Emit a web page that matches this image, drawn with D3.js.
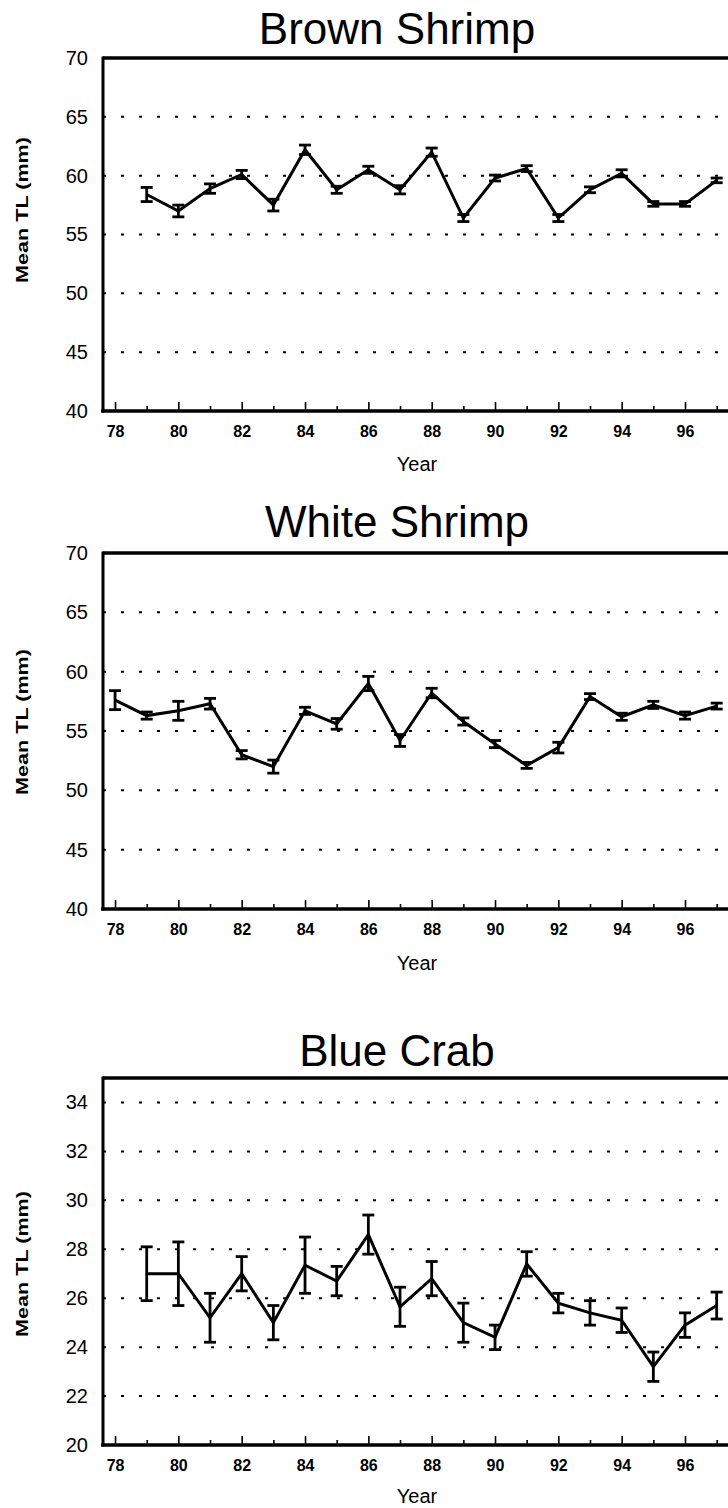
<!DOCTYPE html>
<html>
<head>
<meta charset="utf-8">
<script src="https://cdn.jsdelivr.net/npm/d3@7"></script>
<style>
  body { margin: 0; background: #fff; }
  svg { display: block; }
  text { font-family: "Liberation Sans", Arial, Helvetica, sans-serif; fill: #000; }
</style>
</head>
<body>
<svg id="chart" width="728" height="1508"></svg>
<script>
// ── data (mean TL, mm, with ± error half-width) ──
const brownYears = [79, 80, 81, 82, 83, 84, 85, 86, 87, 88, 89, 90, 91, 92, 93, 94, 95, 96, 97];
const brownMean  = [58.4, 57.0, 58.9, 60.1, 57.5, 62.2, 58.8, 60.5, 58.8, 62.0, 56.4, 59.8, 60.6, 56.4, 58.8, 60.2, 57.6, 57.6, 59.6];
const brownErr   = [0.6, 0.5, 0.4, 0.35, 0.5, 0.4, 0.3, 0.3, 0.35, 0.35, 0.3, 0.25, 0.25, 0.3, 0.25, 0.3, 0.2, 0.2, 0.2];

const whiteYears = [78, 79, 80, 81, 82, 83, 84, 85, 86, 87, 88, 89, 90, 91, 92, 93, 94, 95, 96, 97];
const whiteMean  = [57.6, 56.3, 56.7, 57.3, 53.0, 52.0, 56.7, 55.6, 59.0, 54.2, 58.2, 55.8, 53.9, 52.1, 53.6, 57.9, 56.2, 57.2, 56.3, 57.1];
const whiteErr   = [0.8, 0.3, 0.8, 0.45, 0.35, 0.55, 0.3, 0.45, 0.6, 0.5, 0.4, 0.3, 0.3, 0.25, 0.45, 0.25, 0.3, 0.3, 0.3, 0.25];

const crabYears = [79, 80, 81, 82, 83, 84, 85, 86, 87, 88, 89, 90, 91, 92, 93, 94, 95, 96, 97];
const crabMean  = [27.0, 27.0, 25.2, 27.0, 25.0, 27.35, 26.7, 28.6, 25.65, 26.8, 25.0, 24.4, 27.4, 25.8, 25.4, 25.1, 23.2, 24.9, 25.7];
const crabErr   = [1.1, 1.3, 1.0, 0.7, 0.7, 1.15, 0.6, 0.8, 0.8, 0.7, 0.8, 0.5, 0.5, 0.4, 0.5, 0.5, 0.6, 0.5, 0.55];

const shrimpTicks = [40, 45, 50, 55, 60, 65, 70];
const crabTicks   = [20, 22, 24, 26, 28, 30, 32, 34];
const yearLabels  = [78, 80, 82, 84, 86, 88, 90, 92, 94, 96];
const yearMinor   = [79, 81, 83, 85, 87, 89, 91, 93, 95, 97];

// layout of the three stacked panels (plot top/bottom, title/label baselines)
const panels = [
  { title: 'Brown Shrimp', years: brownYears, mean: brownMean, err: brownErr,
    domain: [40, 70], ticks: shrimpTicks, top: 58, bottom: 411, titleY: 44, yearY: 471, labelY: 210 },
  { title: 'White Shrimp', years: whiteYears, mean: whiteMean, err: whiteErr,
    domain: [40, 70], ticks: shrimpTicks, top: 553, bottom: 909, titleY: 537, yearY: 970, labelY: 722 },
  { title: 'Blue Crab', years: crabYears, mean: crabMean, err: crabErr,
    domain: [20, 35], ticks: crabTicks, top: 1078, bottom: 1445, titleY: 1066, yearY: 1503, labelY: 1264 },
];

const svg = d3.select('#chart');
const left = 103, right = 761;          // right frame edge falls off the page, as in the scan
const x = d3.scaleLinear().domain([77.62, 98.4]).range([left, right]);

panels.forEach((p) => {
  const y = d3.scaleLinear().domain(p.domain).range([p.bottom, p.top]);
  const g = svg.append('g');

  // title
  g.append('text')
    .attr('x', 397).attr('y', p.titleY)
    .attr('text-anchor', 'middle')
    .style('font-size', '44px')
    .text(p.title);

  // dotted grid at interior ticks
  g.append('g').selectAll('line')
    .data(p.ticks.filter((t) => t > p.domain[0] && t < p.domain[1]))
    .join('line')
    .attr('x1', left).attr('x2', right)
    .attr('y1', (d) => y(d)).attr('y2', (d) => y(d))
    .attr('stroke', '#000').attr('stroke-width', 2)
    .attr('stroke-dasharray', '3,15');

  // y tick labels
  const ya = g.append('g').attr('transform', `translate(${left},0)`)
    .call(d3.axisLeft(y).tickValues(p.ticks).tickSize(0).tickPadding(15));
  ya.select('.domain').remove();
  ya.selectAll('text').style('font-size', '20px').attr('fill', '#000');

  // x axis: inward ticks, bold labels on even years
  const xa = g.append('g').attr('transform', `translate(0,${p.bottom})`)
    .call(d3.axisBottom(x).tickValues(yearLabels).tickSizeInner(-9).tickSizeOuter(0).tickPadding(15));
  xa.select('.domain').remove();
  xa.selectAll('line').attr('stroke-width', 1.6);
  xa.selectAll('text').style('font-size', '16px').style('font-weight', 'bold').attr('fill', '#000');
  const xm = g.append('g').attr('transform', `translate(0,${p.bottom})`)
    .call(d3.axisBottom(x).tickValues(yearMinor).tickSizeInner(-5).tickSizeOuter(0).tickFormat(''));
  xm.select('.domain').remove();
  xm.selectAll('line').attr('stroke-width', 1.6);

  // frame: top, left, bottom
  g.append('line').attr('x1', left).attr('x2', right).attr('y1', p.top).attr('y2', p.top)
    .attr('stroke', '#000').attr('stroke-width', 3.5);
  g.append('line').attr('x1', left).attr('x2', left).attr('y1', p.top - 1.5).attr('y2', p.bottom + 1.5)
    .attr('stroke', '#000').attr('stroke-width', 3);
  g.append('line').attr('x1', left - 2).attr('x2', right).attr('y1', p.bottom).attr('y2', p.bottom)
    .attr('stroke', '#000').attr('stroke-width', 3.5);

  // axis titles
  g.append('text')
    .attr('transform', `translate(22,${p.labelY}) rotate(-90)`)
    .attr('text-anchor', 'middle').attr('dominant-baseline', 'central')
    .style('font-size', '17px').style('font-weight', 'bold')
    .attr('textLength', 146).attr('lengthAdjust', 'spacingAndGlyphs')
    .text('Mean TL (mm)');
  g.append('text')
    .attr('x', 417).attr('y', p.yearY)
    .attr('text-anchor', 'middle')
    .style('font-size', '20px')
    .text('Year');

  // series
  const pts = p.years.map((yr, i) => ({ yr, m: p.mean[i], e: p.err[i] }));
  const bars = g.append('g').attr('stroke', '#000').attr('stroke-width', 2.8);
  bars.selectAll('line.stem').data(pts).join('line').attr('class', 'stem')
    .attr('x1', (d) => x(d.yr)).attr('x2', (d) => x(d.yr))
    .attr('y1', (d) => y(d.m - d.e)).attr('y2', (d) => y(d.m + d.e));
  bars.selectAll('line.capHi').data(pts).join('line').attr('class', 'capHi')
    .attr('x1', (d) => x(d.yr) - 6).attr('x2', (d) => x(d.yr) + 6)
    .attr('y1', (d) => y(d.m + d.e)).attr('y2', (d) => y(d.m + d.e));
  bars.selectAll('line.capLo').data(pts).join('line').attr('class', 'capLo')
    .attr('x1', (d) => x(d.yr) - 6).attr('x2', (d) => x(d.yr) + 6)
    .attr('y1', (d) => y(d.m - d.e)).attr('y2', (d) => y(d.m - d.e));

  g.append('path').datum(pts)
    .attr('fill', 'none').attr('stroke', '#000').attr('stroke-width', 3)
    .attr('stroke-linejoin', 'miter')
    .attr('d', d3.line().x((d) => x(d.yr)).y((d) => y(d.m)));
});
</script>
</body>
</html>
